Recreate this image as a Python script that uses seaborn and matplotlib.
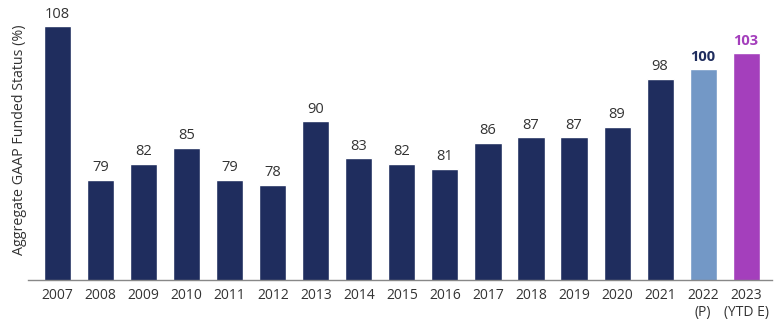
import matplotlib
matplotlib.use("Agg")
import matplotlib.pyplot as plt
import seaborn as sns
import pandas as pd

years = ["2007", "2008", "2009", "2010", "2011", "2012", "2013", "2014", "2015",
         "2016", "2017", "2018", "2019", "2020", "2021", "2022\n(P)", "2023\n(YTD E)"]
funded = [108, 79, 82, 85, 79, 78, 90, 83, 82, 81, 86, 87, 87, 89, 98, 100, 103]

navy = "#1f2d5e"
light_blue = "#7398c6"
purple = "#a43fbc"
bar_colors = [navy] * 15 + [light_blue, purple]
label_colors = [navy] * 15 + [navy, purple]
label_weights = ["normal"] * 15 + ["bold", "bold"]

df = pd.DataFrame({"year": years, "funded": funded})

sns.set_theme(style="white")
plt.rcParams["font.family"] = ["Open Sans", "DejaVu Sans"]

fig = plt.figure(figsize=(7.8, 3.24), dpi=100)
ax = fig.add_axes([0.036, 0.136, 0.954, 0.864])

sns.barplot(data=df, x="year", y="funded", hue="year", palette=bar_colors,
            legend=False, width=0.63, saturation=1, ax=ax)

ax.set_ylim(60, 113)
ax.set_xlim(-0.686, 16.605)

for i, (v, c, w) in enumerate(zip(funded, label_colors, label_weights)):
    ax.text(i, v + 0.9, str(v), ha="center", va="bottom", fontsize=10.5,
            color=c if w == "bold" else "#333333", fontweight=w)

ax.set_yticks([])
ax.set_xlabel("")
ax.set_ylabel("Aggregate GAAP Funded Status (%)", fontsize=10.3, color="#333333", labelpad=1)
ax.tick_params(axis="x", length=0, labelsize=10, labelcolor="#333333", pad=6)
for lbl in ax.get_xticklabels():
    lbl.set_linespacing(1.2)

for s in ["top", "right", "left"]:
    ax.spines[s].set_visible(False)
ax.spines["bottom"].set_color("#888888")
ax.spines["bottom"].set_linewidth(1)

fig.savefig("out.png", dpi=100)
